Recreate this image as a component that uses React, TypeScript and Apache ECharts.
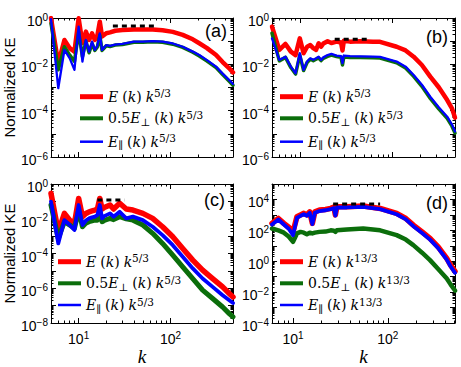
import React, { useEffect, useRef } from "react";
import * as echarts from "echarts";

// ---------- data (k values and log10 of the compensated spectra) ----------
const aK = [5, 6, 7, 8, 9, 10, 11, 12, 13, 14, 15, 16, 17, 18, 20, 22, 25, 30, 40, 50, 64, 82, 106, 136, 175, 206, 250, 314, 370, 437, 480];
const aRedLog = [0, -1.96, -0.95, -1.3, -1.45, -0.01, -1.08, -0.59, -0.95, -0.66, -0.95, -0.75, -0.16, -0.8, -0.66, -0.62, -0.55, -0.52, -0.5, -0.5, -0.5, -0.53, -0.6, -0.73, -0.92, -1.09, -1.3, -1.6, -1.9, -2.17, -2.35];
const aGreenLog = [-0.23, -2.24, -1.24, -1.6, -1.88, -0.59, -1.67, -1.0, -1.5, -1.1, -1.4, -1.25, -0.75, -1.4, -1.2, -1.23, -1.17, -1.14, -1.05, -1.05, -1.03, -1.05, -1.13, -1.27, -1.48, -1.64, -1.86, -2.14, -2.44, -2.73, -2.9];
const aBlueLog = [-0.05, -3.03, -1.38, -1.74, -2.24, -0.37, -1.88, -0.95, -1.45, -1.02, -1.38, -1.2, -0.66, -1.38, -1.17, -1.2, -1.15, -1.12, -1.02, -1.02, -1.0, -1.02, -1.1, -1.24, -1.45, -1.6, -1.82, -2.1, -2.4, -2.68, -2.85];
const aDashK = [23.6, 70];
const aDashV = [0.45, 0.45];

const bK = [5, 6, 7, 8, 9, 10, 11, 12, 13, 14, 15, 16, 17, 18, 20, 22, 25, 28, 29, 30, 35, 45, 62, 74, 112, 140, 171, 210, 259, 320, 395, 445, 480];
const bRedLog = [-0.37, -1.38, -1.12, -1.45, -1.6, -0.88, -1.52, -1.24, -1.17, -1.3, -1.38, -1.09, -1.24, -1.1, -1.0, -1.08, -1.02, -1.06, -1.4, -0.98, -1.02, -1.0, -1.02, -1.03, -1.24, -1.4, -1.67, -2.03, -2.53, -2.99, -3.54, -3.9, -4.3];
const bGreenLog = [-0.66, -1.85, -1.7, -2.14, -2.42, -1.6, -2.27, -1.92, -1.78, -1.84, -1.78, -1.72, -1.84, -1.74, -1.66, -1.6, -1.66, -1.7, -2.03, -1.68, -1.7, -1.7, -1.72, -1.73, -1.93, -2.16, -2.52, -2.95, -3.47, -3.92, -4.33, -4.67, -4.97];
const bBlueLog = [-0.88, -1.81, -1.67, -2.1, -2.39, -1.52, -2.24, -1.88, -1.74, -1.8, -1.74, -1.67, -1.81, -1.7, -1.6, -1.55, -1.62, -1.65, -1.95, -1.62, -1.65, -1.66, -1.67, -1.68, -1.88, -2.1, -2.46, -2.88, -3.4, -3.85, -4.26, -4.6, -4.9];
const bDashK = [23.9, 57.5];
const bDashV = [0.12, 0.12];

const cK = [5, 6, 7, 8, 9, 10, 11, 12, 13, 14, 15, 16, 17, 18, 19, 22, 24, 28, 33, 39, 50, 64, 82, 106, 136, 175, 224, 288, 370, 437, 480];
const cRedLog = [-0.54, -2.75, -1.69, -2.08, -2.27, -0.83, -1.88, -1.7, -1.6, -1.55, -1.5, -1.44, -0.83, -1.44, -1.35, -1.21, -1.44, -1.11, -1.44, -1.5, -1.69, -1.98, -2.46, -3.04, -3.71, -4.38, -4.96, -5.44, -5.92, -6.3, -6.5];
const cGreenLog = [-1.21, -3.13, -2.17, -2.36, -2.56, -1.5, -2.46, -2.25, -2.17, -2.12, -2.08, -2.08, -1.75, -2.17, -2.1, -1.98, -2.05, -1.88, -2.0, -2.08, -2.36, -2.84, -3.42, -4.1, -4.77, -5.44, -6.11, -6.59, -7.08, -7.46, -7.65];
const cBlueLog = [-1.02, -3.42, -2.08, -2.36, -2.65, -1.21, -2.36, -2.1, -1.98, -1.92, -1.88, -1.79, -1.21, -1.98, -1.85, -1.69, -1.88, -1.6, -1.98, -1.88, -2.08, -2.46, -2.94, -3.52, -4.19, -4.86, -5.44, -5.92, -6.4, -6.69, -6.85];
const cDashK = [16, 31.6];
const cDashV = [0.12, 0.12];

const dK = [6, 7, 8, 9, 10, 11, 12, 13, 14, 15, 16, 17, 19, 22, 25, 27, 28, 29, 37, 55, 83, 124, 155, 186, 230, 279, 340, 419, 460, 512];
const dRedLog = [2.45, 2.77, 2.45, 2.2, 1.9, 2.88, 3.0, 3.1, 3.0, 3.2, 2.45, 3.2, 3.31, 3.35, 3.42, 3.5, 3.0, 3.53, 3.53, 3.57, 3.42, 3.1, 2.77, 2.34, 1.9, 1.48, 0.93, 0.18, -0.26, -0.65];
const dGreenLog = [2.12, 2.0, 1.85, 1.6, 1.26, 1.8, 1.9, 1.85, 1.75, 1.85, 1.8, 1.85, 1.9, 1.92, 2.0, 1.98, 1.9, 2.0, 2.05, 2.12, 2.0, 1.69, 1.4, 1.04, 0.55, 0.07, -0.5, -1.12, -1.5, -1.9];
const dBlueLog = [2.38, 2.7, 2.38, 2.1, 1.69, 2.8, 2.94, 3.04, 2.94, 3.14, 2.4, 3.14, 3.25, 3.3, 3.37, 3.44, 2.95, 3.48, 3.48, 3.52, 3.37, 3.04, 2.71, 2.27, 1.83, 1.4, 0.85, 0.1, -0.34, -0.75];
const dDashK = [26.5, 83];
const dDashV = [5000, 5000];

// ---------- layout ----------
const RED = "#ff0000";
const GREEN = "#0b6e0b";
const BLUE = "#0000ff";
const SANS = "Liberation Sans, Arial, sans-serif";
const SERIF = "DejaVu Serif, serif";

const panels = [
  { id: "a", label: "(a)", labX: 227, labY: 30.5, grid: { left: 51, top: 18, width: 182, height: 139 }, kMin: 5, kMax: 480, yExp: [-6, 0], showX: false, yName: true, legLeft: 80, legTop: [96.7, 118.3, 141.7], widths: [4.5, 3.5, 2.3],
    k: aK, red: aRedLog, green: aGreenLog, blue: aBlueLog, dashK: aDashK, dashV: aDashV },
  { id: "b", label: "(b)", labX: 448, labY: 36.5, grid: { left: 272, top: 18, width: 183, height: 139 }, kMin: 5, kMax: 480, yExp: [-6, 0], showX: false, yName: false, legLeft: 280, legTop: [96.7, 118.3, 141.7], widths: [4.5, 3.5, 2.3],
    k: bK, red: bRedLog, green: bGreenLog, blue: bBlueLog, dashK: bDashK, dashV: bDashV },
  { id: "c", label: "(c)", labX: 225, labY: 200, grid: { left: 51, top: 184, width: 182, height: 139 }, kMin: 5, kMax: 480, yExp: [-8, 0], showX: true, yName: true, legLeft: 58, legTop: [261.7, 283.3, 305], widths: [5.5, 5, 3.8],
    k: cK, red: cRedLog, green: cGreenLog, blue: cBlueLog, dashK: cDashK, dashV: cDashV },
  { id: "d", label: "(d)", labX: 448, labY: 202.5, grid: { left: 272, top: 184, width: 183, height: 139 }, kMin: 6, kMax: 512, yExp: [-4, 5], showX: true, yName: false, legLeft: 280, legTop: [261.7, 283.3, 305], widths: [5.5, 4.5, 3.8],
    k: dK, red: dRedLog, green: dGreenLog, blue: dBlueLog, dashK: dDashK, dashV: dDashV },
];

function decadeValues(lo: number, hi: number) {
  const out: number[] = [];
  for (let e = -12; e <= 12; e++) {
    const v = Math.pow(10, e);
    if (v >= lo * 0.9999 && v <= hi * 1.0001) out.push(v);
  }
  return out;
}
function minorValues(lo: number, hi: number) {
  const out: number[] = [];
  for (let e = -12; e <= 12; e++) {
    for (let m = 2; m <= 9; m++) {
      const v = m * Math.pow(10, e);
      if (v > lo && v < hi) out.push(v);
    }
  }
  return out;
}

const tickRich = {
  b: { fontFamily: SANS, fontSize: 14, color: "#000", lineHeight: 16, verticalAlign: "bottom" },
  s: { fontFamily: SANS, fontSize: 10, color: "#000", lineHeight: 6, verticalAlign: "top" },
};
function powLabel(v: number) {
  const e = Math.round(Math.log10(v));
  const es = e < 0 ? "\u2212" + -e : String(e);
  return "{b|10}{s|" + es + "}";
}

const BLACK = { color: "#000", width: 1 };

function buildX(p: number, pp: any) {
  const majors = decadeValues(pp.kMin, pp.kMax);
  const minors = minorValues(pp.kMin, pp.kMax);
  const base: any = {
    type: "log", logBase: 10, gridIndex: p, min: pp.kMin, max: pp.kMax,
    splitLine: { show: false }, minorTick: { show: false }, minorSplitLine: { show: false },
  };
  return [
    {
      ...base, position: "bottom",
      axisLine: { show: true, onZero: false, lineStyle: BLACK },
      axisTick: { show: true, inside: true, length: 5, customValues: majors, lineStyle: BLACK },
      axisLabel: pp.showX
        ? { show: true, customValues: majors, formatter: powLabel, rich: tickRich, margin: 5, padding: [2, 0, 0, 0] }
        : { show: false },
      name: pp.showX ? "k" : "",
      nameLocation: "middle",
      nameGap: 21,
      nameTextStyle: { fontFamily: "Liberation Serif, serif", fontStyle: "italic", fontSize: 19, color: "#000" },
    },
    { ...base, position: "bottom", axisLine: { show: false }, axisTick: { show: true, inside: true, length: 2.5, customValues: minors, lineStyle: BLACK }, axisLabel: { show: false } },
    { ...base, position: "top", axisLine: { show: true, onZero: false, lineStyle: BLACK }, axisTick: { show: true, inside: true, length: 5, customValues: majors, lineStyle: BLACK }, axisLabel: { show: false } },
    { ...base, position: "top", axisLine: { show: false }, axisTick: { show: true, inside: true, length: 2.5, customValues: minors, lineStyle: BLACK }, axisLabel: { show: false } },
  ];
}

function buildY(p: number, pp: any) {
  const lo = Math.pow(10, pp.yExp[0]);
  const hi = Math.pow(10, pp.yExp[1]);
  const majors = decadeValues(lo, hi);
  const labels = majors.filter((v) => Math.round(Math.log10(v)) % 2 === 0);
  const minors = minorValues(lo, hi);
  const base: any = {
    type: "log", logBase: 10, gridIndex: p, min: lo, max: hi,
    splitLine: { show: false }, minorTick: { show: false }, minorSplitLine: { show: false },
  };
  return [
    {
      ...base, position: "left",
      axisLine: { show: true, onZero: false, lineStyle: BLACK },
      axisTick: { show: true, inside: true, length: 5, customValues: majors, lineStyle: BLACK },
      axisLabel: { show: true, customValues: labels, formatter: powLabel, rich: tickRich, margin: 3, padding: [4, 0, 0, 0] },
      name: pp.yName ? "Normalized KE" : "",
      nameLocation: "middle",
      nameGap: 33,
      nameTextStyle: { fontFamily: SANS, fontSize: 15, color: "#000" },
    },
    { ...base, position: "left", axisLine: { show: false }, axisTick: { show: true, inside: true, length: 2.5, customValues: minors, lineStyle: BLACK }, axisLabel: { show: false } },
    { ...base, position: "right", axisLine: { show: true, onZero: false, lineStyle: BLACK }, axisTick: { show: true, inside: true, length: 5, customValues: majors, lineStyle: BLACK }, axisLabel: { show: false } },
    { ...base, position: "right", axisLine: { show: false }, axisTick: { show: true, inside: true, length: 2.5, customValues: minors, lineStyle: BLACK }, axisLabel: { show: false } },
  ];
}

function lineSeries(name: string, k: number[], lg: number[], p: number, color: string, width: number) {
  return {
    type: "line", name, xAxisIndex: 4 * p, yAxisIndex: 4 * p,
    data: k.map((x, i) => [x, Math.pow(10, lg[i])]),
    showSymbol: false, symbol: "none", color,
    itemStyle: { color },
    lineStyle: { color, width, join: "round", cap: "round" },
    silent: true,
  };
}

const legendRich = {
  i: { fontFamily: SERIF, fontStyle: "italic", fontSize: 14, lineHeight: 18, color: "#000" },
  r: { fontFamily: SERIF, fontSize: 14, lineHeight: 18, color: "#000" },
  sp: { fontFamily: SERIF, fontSize: 14, lineHeight: 18, color: "#000", width: 4 },
  sup: { fontFamily: SERIF, fontSize: 10.5, lineHeight: 8, verticalAlign: "top", color: "#000" },
  sub: { fontFamily: SERIF, fontSize: 10.5, lineHeight: 8, verticalAlign: "bottom", color: "#000" },
};

function legendText(name: string) {
  const exp = name[0] === "d" ? "13/3" : "5/3";
  const tail = "{sp| }{r|(}{i|k}{r|)}{sp| }{i|k}{sup|" + exp + "}";
  const kind = name.slice(1);
  if (kind === "E") return "{i|E}" + tail;
  if (kind === "P") return "{r|0.5}{i|E}{sub|\u22a5}" + tail;
  return "{i|E}{sub|\u2225}" + tail;
}

function buildOption() {
  const xAxis: any[] = [];
  const yAxis: any[] = [];
  const series: any[] = [];
  const legend: any[] = [];
  const graphic: any[] = [];
  const grid: any[] = [];
  panels.forEach((pp, p) => {
    grid.push({ ...pp.grid, containLabel: false, outerBoundsMode: "none" });
    xAxis.push(...buildX(p, pp));
    yAxis.push(...buildY(p, pp));
    series.push(lineSeries(pp.id + "E", pp.k, pp.red, p, RED, pp.widths[0]));
    series.push(lineSeries(pp.id + "P", pp.k, pp.green, p, GREEN, pp.widths[1]));
    series.push(lineSeries(pp.id + "L", pp.k, pp.blue, p, BLUE, pp.widths[2]));
    series.push({
      type: "line", name: pp.id + "dash", xAxisIndex: 4 * p, yAxisIndex: 4 * p,
      data: pp.dashK.map((x: number, i: number) => [x, pp.dashV[i]]),
      showSymbol: false, symbol: "none", silent: true,
      lineStyle: { color: "#000", width: 3, type: [5, 4] },
    });
    const heights = [5, 4, 2.5];
    ["E", "P", "L"].forEach((s, j) => {
      legend.push({
        id: "leg-" + pp.id + s,
        data: [pp.id + s], left: pp.legLeft, top: pp.legTop[j] - 9, padding: 0,
        itemWidth: 23, itemHeight: heights[j], icon: "rect", selectedMode: false,
        formatter: legendText,
        textStyle: { fontFamily: SERIF, fontSize: 14, lineHeight: 18, color: "#000", rich: legendRich },
      });
    });
    graphic.push({
      type: "text", x: pp.labX, y: pp.labY, silent: true,
      style: { text: pp.label, fontFamily: SANS, fontSize: 18, fill: "#000", align: "right", verticalAlign: "middle" },
    });
  });
  return { animation: false, backgroundColor: "#fff", grid, xAxis, yAxis, series, legend, graphic };
}

export default function App() {
  const ref = useRef<HTMLDivElement>(null);
  useEffect(() => {
    if (!ref.current) return;
    const chart = echarts.init(ref.current, null, { renderer: "svg" });
    chart.setOption(buildOption() as any);
    return () => chart.dispose();
  }, []);
  return (
    <div
      ref={ref}
      style={{ position: "absolute", left: 0, top: 0, width: 461, height: 367, background: "#fff" }}
    />
  );
}
